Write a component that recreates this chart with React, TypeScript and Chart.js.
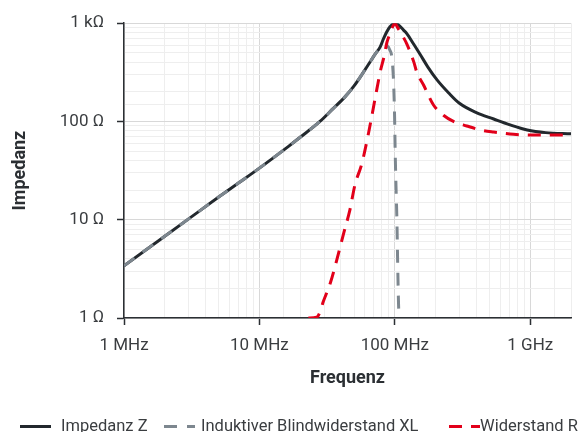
import { useEffect, useRef } from "react";
import { Chart, registerables } from "chart.js";

Chart.register(...registerables);

// Frequencies in MHz, impedances in Ohm
const freqZ = [1, 2, 3, 5, 7, 10, 16.4, 20, 28, 35, 43, 50, 60, 72, 78, 83, 90, 95, 100, 106, 116, 123, 138, 154, 175, 205, 250, 300, 400, 537, 700, 950, 1300, 2000];
const valZ = [3.4, 6.8, 10.2, 17, 23.6, 33.5, 55.8, 69, 100, 135, 179, 230, 333, 490, 575, 710, 880, 960, 990, 965, 850, 780, 610, 480, 360, 265, 195, 153, 123, 106, 93, 82, 77, 75];

const freqXL = [1, 2, 3, 5, 7, 10, 16.4, 20, 28, 35, 43, 50, 60, 72, 78, 84, 88, 92, 95, 98, 99.6, 100.6, 102, 103.6, 105, 106.5, 107.5];
const valXL = [3.4, 6.8, 10.2, 17, 23.6, 33.5, 55.8, 69, 100, 135, 179, 230, 333, 490, 560, 598, 590, 530, 453, 243, 112, 50, 22, 10, 3.5, 1.4, 1];

const freqR = [23, 26.5, 28, 29.6, 33.3, 37.2, 41.8, 46.4, 50.9, 57, 64.3, 67.5, 73.8, 78, 83, 87.5, 91.4, 95, 100, 106, 115, 123, 138, 145, 163, 193, 230, 271, 340, 427, 537, 754, 1000, 1590, 2000];
const valR = [1.0, 1.02, 1.15, 1.46, 2.24, 3.85, 7.2, 12.3, 23, 37, 79, 112, 216, 320, 450, 640, 760, 880, 990, 880, 730, 610, 404, 320, 235, 147, 115, 100, 90, 82, 78, 74, 73, 73, 73];

const seriesLabels = ["Impedanz Z", "Induktiver Blindwiderstand XL", "Widerstand R"];

const xTickLabels: Record<string, string> = { "1": "1 MHz", "10": "10 MHz", "100": "100 MHz", "1000": "1 GHz" };
const yTickLabels: Record<string, string> = { "1": "1 Ω", "10": "10 Ω", "100": "100 Ω", "1000": "1 kΩ" };

const X_MIN = 1;
const X_MAX = 2000;
const Y_MIN = 1;
const Y_MAX = 1000;

const FONT = "Roboto";
const TEXT_COLOR = "#3a3d40";
const AXIS_COLOR = "#2b2f33";

function isDecade(v: number) {
  const l = Math.log10(v);
  return Math.abs(l - Math.round(l)) < 1e-6;
}

function pts(xs: number[], ys: number[]) {
  return xs.map((x, i) => ({ x, y: ys[i] }));
}

const lineLegend = {
  id: "lineLegend",
  afterDraw(chart: any, _args: any, opts: any) {
    const ctx = chart.ctx as CanvasRenderingContext2D;
    ctx.save();
    chart.data.datasets.forEach((ds: any, i: number) => {
      const x0 = opts.lineX[i];
      ctx.beginPath();
      ctx.setLineDash(ds.borderDash || []);
      ctx.lineWidth = ds.borderWidth;
      ctx.strokeStyle = ds.borderColor;
      ctx.lineCap = "butt";
      ctx.moveTo(x0, opts.lineY);
      ctx.lineTo(x0 + opts.lineLength, opts.lineY);
      ctx.stroke();
      ctx.setLineDash([]);
      ctx.font = opts.font;
      ctx.fillStyle = opts.color;
      ctx.textAlign = "left";
      ctx.textBaseline = "alphabetic";
      ctx.fillText(ds.label, opts.textX[i], opts.textY);
    });
    ctx.restore();
  },
};

export default function App() {
  const ref = useRef<HTMLCanvasElement | null>(null);

  useEffect(() => {
    if (!ref.current) return;
    const gridColor = (c: any) =>
      c.tick && isDecade(c.tick.value) ? "#d8d8d8" : "#eeeeee";
    const tickColor = (c: any) =>
      c.tick && isDecade(c.tick.value) ? AXIS_COLOR : "rgba(0,0,0,0)";
    const label = (map: Record<string, string>) => (v: any) => {
      const n = Number(v);
      return isDecade(n) && map[String(Math.round(n))] ? map[String(Math.round(n))] : "";
    };

    const chart = new Chart(ref.current, {
      type: "line",
      data: {
        datasets: [
          {
            label: seriesLabels[0],
            data: pts(freqZ, valZ),
            borderColor: "#22282d",
            borderWidth: 3,
            pointRadius: 0,
            cubicInterpolationMode: "monotone",
            order: 3,
          },
          {
            label: seriesLabels[1],
            data: pts(freqXL, valXL),
            borderColor: "#7d878f",
            borderWidth: 3,
            borderDash: [13, 10],
            pointRadius: 0,
            cubicInterpolationMode: "monotone",
            order: 2,
          },
          {
            label: seriesLabels[2],
            data: pts(freqR, valR),
            borderColor: "#e2001a",
            borderWidth: 3,
            borderDash: [13, 9],
            pointRadius: 0,
            cubicInterpolationMode: "monotone",
            order: 1,
          },
        ],
      },
      options: {
        animation: false,
        responsive: false,
        layout: { padding: { left: 0, right: 14, top: 21, bottom: 43 } },
        plugins: {
          legend: { display: false },
          tooltip: { enabled: false },
          lineLegend: {
            lineX: [20, 164, 449],
            textX: [61, 201, 480],
            lineLength: 31,
            lineY: 426.5,
            textY: 431,
            font: `16.5px ${FONT}`,
            color: TEXT_COLOR,
          },
        } as any,
        scales: {
          x: {
            type: "logarithmic",
            min: X_MIN,
            max: X_MAX,
            border: { color: AXIS_COLOR, width: 1.5 },
            grid: { color: gridColor, tickColor, tickLength: 7, tickWidth: 1.5, lineWidth: 1 },
            ticks: {
              autoSkip: false,
              maxRotation: 0,
              padding: 11,
              color: TEXT_COLOR,
              font: { family: FONT, size: 17 },
              callback: label(xTickLabels),
            },
            title: {
              display: true,
              text: "Frequenz",
              color: AXIS_COLOR,
              font: { family: FONT, size: 18, weight: "bold" },
              padding: { top: 0, bottom: 0 },
            },
            afterFit: (s: any) => {
              s.height = 71;
            },
          },
          y: {
            type: "logarithmic",
            min: Y_MIN,
            max: Y_MAX,
            border: { color: AXIS_COLOR, width: 1.5 },
            grid: { color: gridColor, tickColor, tickLength: 7, tickWidth: 1.5, lineWidth: 1 },
            ticks: {
              autoSkip: false,
              padding: 13,
              color: TEXT_COLOR,
              font: { family: FONT, size: 17 },
              callback: label(yTickLabels),
            },
            title: {
              display: true,
              text: "Impedanz",
              color: AXIS_COLOR,
              font: { family: FONT, size: 18, weight: "bold" },
              padding: { top: 10, bottom: 0 },
            },
            afterFit: (s: any) => {
              s.width = 124;
            },
          },
        },
      },
      plugins: [lineLegend as any],
    });
    return () => chart.destroy();
  }, []);

  return (
    <div style={{ position: "fixed", left: 0, top: 0, width: 585, height: 432, background: "#fff" }}>
      <canvas ref={ref} width={585} height={432} />
    </div>
  );
}
